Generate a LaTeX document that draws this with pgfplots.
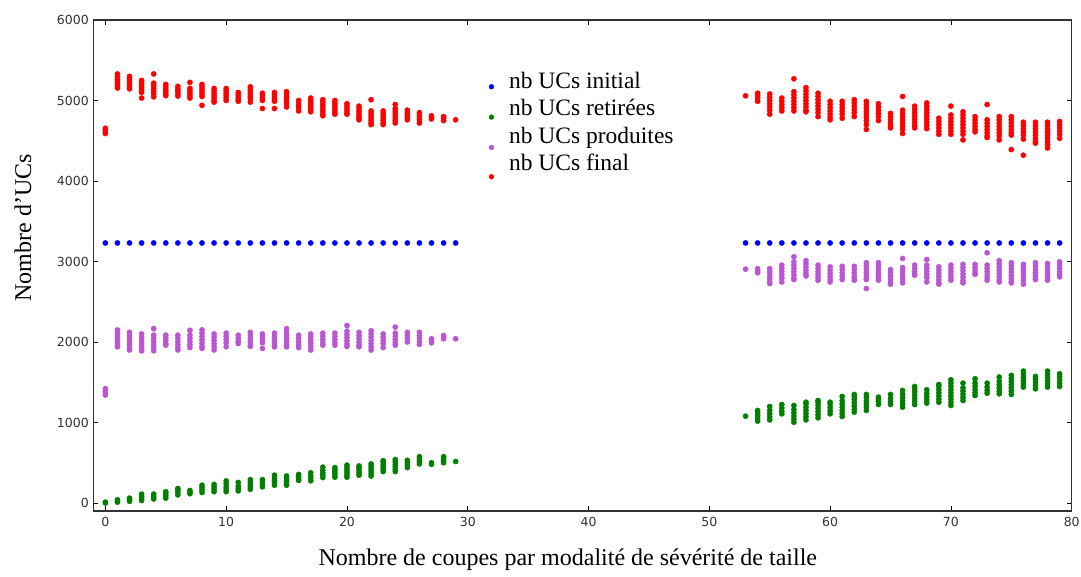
\documentclass[border=0pt]{standalone}
\usepackage{pgfplots}
\pgfplotsset{compat=1.18}
\usepackage{fontspec}
\setmainfont{Liberation Serif}
\newfontfamily\ticksf{DejaVu Sans}
\definecolor{cblue}{RGB}{0,0,255}
\definecolor{cgreen}{RGB}{0,128,0}
\definecolor{cpurple}{RGB}{186,85,211}
\definecolor{cred}{RGB}{255,0,0}
\definecolor{tickgray}{RGB}{50,50,50}
\begin{document}
\begin{tikzpicture}
\begin{axis}[
  scale only axis,
  width=978.4pt, height=491pt,
  xmin=-1, xmax=80, ymin=-100, ymax=6000,
  xtick={0,10,20,30,40,50,60,70,80},
  ytick={0,1000,2000,3000,4000,5000,6000},
  scaled ticks=false,
  /pgf/number format/assume math mode=true,
  /pgf/number format/1000 sep={},
  tick label style={font=\ticksf\fontsize{12.5}{14}\selectfont, text=tickgray},
  xticklabel style={yshift=-3pt},
  yticklabel style={xshift=-1pt},
  major tick length=5pt,
  tick style={black, line width=0.8pt},
  axis line style={line width=1.3pt, draw=black!80},
  tick align=inside,
  xlabel={Nombre de coupes par modalité de sévérité de taille},
  ylabel={Nombre d’UCs},
  label style={font=\fontsize{24}{28}\selectfont},
  xlabel style={at={(axis description cs:0.485,-0.110)}, anchor=base},
  ylabel style={at={(axis description cs:-0.072,0.577)}, anchor=center},
  legend style={at={(0.4018,0.9037)}, anchor=north west, draw=none, fill=none,
    font=\fontsize{23.5}{28}\selectfont, row sep=1.5pt, inner sep=2pt,
    nodes={text height=17pt, text depth=5pt, inner sep=2pt}},
  legend cell align=left,
  every axis plot/.append style={only marks, mark=*, mark size=2.6pt},
]
\addplot[color=cblue, legend image code/.code={\path[draw=none] (-0.1cm,0cm) -- (0.55cm,0cm); \fill[cblue] (0cm,-0.15cm) circle (2.4pt);}] coordinates {
(0,3230)(1,3230)(2,3230)(3,3230)(4,3230)(5,3230)(6,3230)(7,3230)(8,3230)(9,3230)
(10,3230)(11,3230)(12,3230)(13,3230)(14,3230)(15,3230)(16,3230)(17,3230)(18,3230)(19,3230)
(20,3230)(21,3230)(22,3230)(23,3230)(24,3230)(25,3230)(26,3230)(27,3230)(28,3230)(29,3230)
(53,3230)(54,3230)(55,3230)(56,3230)(57,3230)(58,3230)(59,3230)(60,3230)(61,3230)(62,3230)
(63,3230)(64,3230)(65,3230)(66,3230)(67,3230)(68,3230)(69,3230)(70,3230)(71,3230)(72,3230)
(73,3230)(74,3230)(75,3230)(76,3230)(77,3230)(78,3230)(79,3230)
};
\addlegendentry{nb UCs initial}
\addplot[color=cgreen, legend image code/.code={\path[draw=none] (-0.1cm,0cm) -- (0.55cm,0cm); \fill[cgreen] (0cm,-0.25cm) circle (2.4pt);}] coordinates {
(0,0)(0,10)
(1,10)(1,25)(1,40)
(2,20)(2,40)(2,60)
(3,30)(3,55)(3,80)(3,110)
(4,50)(4,80)(4,110)
(5,60)(5,90)(5,120)(5,140)
(6,100)(6,130)(6,160)(6,180)
(7,115)(7,135)(7,155)
(8,130)(8,160)(8,190)(8,220)
(9,140)(9,170)(9,200)(9,230)
(10,140)(10,170)(10,200)(10,240)(10,275)
(11,150)(11,180)(11,210)(11,255)
(12,170)(12,200)(12,230)(12,260)(12,290)
(13,200)(13,230)(13,260)(13,290)
(14,220)(14,250)(14,280)(14,310)(14,345)
(15,220)(15,250)(15,280)(15,310)(15,335)
(16,280)(16,300)(16,330)(16,355)
(17,275)(17,305)(17,335)(17,375)
(18,315)(18,345)(18,375)(18,405)(18,445)
(19,320)(19,350)(19,380)(19,410)(19,440)
(20,320)(20,350)(20,380)(20,410)(20,440)(20,470)
(21,345)(21,375)(21,405)(21,435)(21,460)
(22,335)(22,365)(22,395)(22,425)(22,455)(22,485)
(23,390)(23,420)(23,450)(23,480)(23,510)(23,525)
(24,390)(24,420)(24,450)(24,480)(24,510)(24,540)
(25,440)(25,470)(25,500)(25,530)
(26,485)(26,515)(26,545)(26,575)
(27,480)(27,500)
(28,500)(28,530)(28,560)(28,575)
(29,515)
(53,1078)
(54,1016)(54,1050)(54,1085)(54,1120)(54,1149)
(55,1032)(55,1070)(55,1110)(55,1150)(55,1198)
(56,1107)(56,1140)(56,1180)(56,1223)
(57,1003)(57,1040)(57,1080)(57,1120)(57,1160)(57,1211)
(58,1032)(58,1070)(58,1110)(58,1150)(58,1190)(58,1230)(58,1252)
(59,1057)(59,1095)(59,1135)(59,1175)(59,1215)(59,1250)(59,1273)
(60,1107)(60,1145)(60,1185)(60,1225)(60,1252)
(61,1074)(61,1110)(61,1150)(61,1190)(61,1230)(61,1270)(61,1323)
(62,1128)(62,1165)(62,1205)(62,1245)(62,1285)(62,1320)(62,1348)
(63,1149)(63,1190)(63,1230)(63,1270)(63,1310)(63,1348)
(64,1223)(64,1260)(64,1290)(64,1315)
(65,1223)(65,1260)(65,1300)(65,1348)
(66,1190)(66,1230)(66,1270)(66,1310)(66,1350)(66,1398)
(67,1223)(67,1260)(67,1300)(67,1340)(67,1380)(67,1420)(67,1447)
(68,1240)(68,1280)(68,1320)(68,1360)(68,1406)
(69,1252)(69,1290)(69,1330)(69,1370)(69,1410)(69,1450)(69,1472)
(70,1211)(70,1250)(70,1290)(70,1330)(70,1370)(70,1410)(70,1450)(70,1490)(70,1530)
(71,1273)(71,1310)(71,1350)(71,1390)(71,1430)(71,1489)
(72,1335)(72,1370)(72,1410)(72,1450)(72,1490)(72,1543)
(73,1364)(73,1400)(73,1440)(73,1489)
(74,1356)(74,1390)(74,1430)(74,1470)(74,1510)(74,1564)
(75,1348)(75,1390)(75,1430)(75,1470)(75,1510)(75,1550)(75,1585)
(76,1439)(76,1480)(76,1520)(76,1560)(76,1600)(76,1638)
(77,1418)(77,1460)(77,1500)(77,1540)(77,1572)
(78,1439)(78,1480)(78,1520)(78,1560)(78,1600)(78,1638)
(79,1447)(79,1490)(79,1530)(79,1570)(79,1605)
};
\addlegendentry{nb UCs retirées}
\addplot[color=cpurple, legend image code/.code={\path[draw=none] (-0.1cm,0cm) -- (0.55cm,0cm); \fill[cpurple] (0cm,-0.35cm) circle (2.4pt);}] coordinates {
(0,1340)(0,1365)(0,1390)(0,1420)
(1,2150)(1,2110)(1,2070)(1,2030)(1,1990)(1,1960)(1,1940)
(2,2120)(2,2080)(2,2040)(2,2000)(2,1960)(2,1920)(2,1900)
(3,2100)(3,2060)(3,2020)(3,1980)(3,1940)(3,1910)(3,1890)
(4,2165)(4,2085)(4,2045)(4,2005)(4,1965)(4,1925)(4,1890)
(5,2085)(5,2050)(5,2015)(5,1980)(5,1960)
(6,2085)(6,2045)(6,2005)(6,1965)(6,1930)(6,1900)
(7,2145)(7,2085)(7,2045)(7,2005)(7,1965)(7,1930)
(8,2150)(8,2110)(8,2070)(8,2030)(8,1990)(8,1950)(8,1920)
(9,2100)(9,2060)(9,2020)(9,1980)(9,1940)(9,1900)
(10,2110)(10,2070)(10,2030)(10,1990)(10,1940)
(11,2085)(11,2045)(11,2010)(11,1980)
(12,2120)(12,2080)(12,2040)(12,2000)(12,1960)(12,1945)
(13,2100)(13,2060)(13,2020)(13,1990)(13,1920)
(14,2110)(14,2070)(14,2030)(14,1990)(14,1960)(14,1940)
(15,2165)(15,2125)(15,2085)(15,2045)(15,2005)(15,1970)(15,1940)
(16,2085)(16,2045)(16,2005)(16,1965)(16,1930)
(17,2100)(17,2060)(17,2020)(17,1980)(17,1940)(17,1900)
(18,2110)(18,2070)(18,2030)(18,1990)(18,1960)
(19,2110)(19,2070)(19,2030)(19,1990)(19,1960)
(20,2205)(20,2135)(20,2095)(20,2055)(20,2015)(20,1975)(20,1945)
(21,2120)(21,2080)(21,2040)(21,2000)(21,1960)(21,1940)
(22,2140)(22,2100)(22,2060)(22,2020)(22,1980)(22,1940)(22,1900)
(23,2100)(23,2060)(23,2020)(23,1980)(23,1930)
(24,2185)(24,2110)(24,2070)(24,2030)(24,1990)(24,1960)
(25,2120)(25,2080)(25,2040)(25,2000)
(26,2120)(26,2080)(26,2040)(26,2000)(26,1970)
(27,2040)(27,2015)(27,1990)
(28,2080)(28,2060)(28,2040)
(29,2040)
(53,2904)
(54,2910)(54,2885)(54,2860)
(55,2910)(55,2870)(55,2830)(55,2790)(55,2750)(55,2726)
(56,2955)(56,2915)(56,2875)(56,2835)(56,2795)(56,2745)
(57,3058)(57,2995)(57,2955)(57,2915)(57,2875)(57,2835)(57,2795)(57,2775)
(58,3010)(58,2970)(58,2930)(58,2890)(58,2850)(58,2820)
(59,2955)(59,2915)(59,2875)(59,2835)(59,2800)(59,2767)
(60,2933)(60,2893)(60,2853)(60,2813)(60,2780)(60,2745)
(61,2940)(61,2900)(61,2860)(61,2820)(61,2775)
(62,2940)(62,2900)(62,2860)(62,2820)(62,2790)(62,2767)
(63,2985)(63,2945)(63,2905)(63,2865)(63,2825)(63,2790)(63,2775)(63,2664)
(64,2985)(64,2945)(64,2905)(64,2865)(64,2825)(64,2790)(64,2767)
(65,2900)(65,2860)(65,2820)(65,2780)(65,2740)(65,2718)
(66,3037)(66,2925)(66,2885)(66,2845)(66,2800)(66,2770)(66,2734)
(67,2955)(67,2915)(67,2875)(67,2840)(67,2830)
(68,3025)(68,2955)(68,2915)(68,2875)(68,2840)(68,2800)(68,2745)
(69,2933)(69,2893)(69,2853)(69,2813)(69,2773)(69,2740)(69,2718)
(70,2955)(70,2915)(70,2875)(70,2835)(70,2800)(70,2767)
(71,2965)(71,2925)(71,2885)(71,2845)(71,2805)(71,2765)(71,2734)
(72,2965)(72,2925)(72,2885)(72,2850)(72,2840)
(73,3108)(73,2955)(73,2915)(73,2875)(73,2835)(73,2800)(73,2767)
(74,3010)(74,2970)(74,2930)(74,2890)(74,2850)(74,2810)(74,2770)(74,2745)
(75,2985)(75,2945)(75,2905)(75,2865)(75,2825)(75,2785)(75,2750)(75,2734)
(76,2965)(76,2925)(76,2885)(76,2845)(76,2805)(76,2765)(76,2718)
(77,2985)(77,2945)(77,2905)(77,2865)(77,2825)(77,2790)(77,2775)
(78,2975)(78,2935)(78,2895)(78,2855)(78,2815)(78,2780)(78,2767)
(79,2995)(79,2955)(79,2915)(79,2875)(79,2840)(79,2809)
};
\addlegendentry{nb UCs produites}
\addplot[color=cred, legend image code/.code={\path[draw=none] (-0.1cm,0cm) -- (0.55cm,0cm); \fill[cred] (0cm,-0.414cm) circle (2.4pt);}] coordinates {
(0,4590)(0,4615)(0,4640)(0,4655)
(1,5330)(1,5295)(1,5265)(1,5235)(1,5205)(1,5175)(1,5155)
(2,5300)(2,5270)(2,5240)(2,5205)(2,5175)(2,5145)
(3,5250)(3,5220)(3,5190)(3,5160)(3,5130)(3,5100)(3,5030)
(4,5330)(4,5215)(4,5185)(4,5150)(4,5115)(4,5080)(4,5045)
(5,5200)(5,5170)(5,5140)(5,5110)(5,5080)(5,5060)
(6,5175)(6,5145)(6,5115)(6,5085)(6,5055)
(7,5225)(7,5150)(7,5120)(7,5090)(7,5060)(7,5030)
(8,5200)(8,5170)(8,5140)(8,5110)(8,5080)(8,5050)(8,4940)
(9,5150)(9,5120)(9,5090)(9,5060)(9,5030)(9,5000)(9,4980)
(10,5150)(10,5120)(10,5090)(10,5060)(10,5030)(10,5000)
(11,5100)(11,5070)(11,5040)(11,5010)(11,4990)
(12,5170)(12,5140)(12,5110)(12,5080)(12,5050)(12,5020)(12,4980)
(13,5090)(13,5060)(13,5030)(13,5000)(13,4900)
(14,5100)(14,5070)(14,5040)(14,5010)(14,4990)(14,4900)
(15,5110)(15,5080)(15,5050)(15,5020)(15,4990)(15,4960)(15,4920)
(16,5000)(16,4970)(16,4940)(16,4910)(16,4870)
(17,5030)(17,5000)(17,4970)(17,4940)(17,4910)(17,4880)(17,4860)
(18,5010)(18,4980)(18,4950)(18,4920)(18,4890)(18,4860)(18,4830)(18,4810)
(19,5000)(19,4970)(19,4940)(19,4910)(19,4880)(19,4850)(19,4830)
(20,4960)(20,4930)(20,4900)(20,4870)(20,4840)(20,4830)
(21,4930)(21,4900)(21,4870)(21,4840)(21,4810)(21,4780)(21,4760)
(22,5010)(22,4870)(22,4840)(22,4810)(22,4780)(22,4750)(22,4720)(22,4700)
(23,4870)(23,4840)(23,4810)(23,4780)(23,4750)(23,4720)(23,4700)
(24,4950)(24,4900)(24,4870)(24,4840)(24,4810)(24,4780)(24,4750)(24,4720)
(25,4880)(25,4850)(25,4820)(25,4790)(25,4760)
(26,4850)(26,4820)(26,4790)(26,4760)(26,4720)
(27,4810)(27,4790)(27,4770)
(28,4800)(28,4775)(28,4750)
(29,4760)
(53,5058)
(54,5090)(54,5060)(54,5030)(54,4990)
(55,5080)(55,5040)(55,5000)(55,4960)(55,4920)(55,4880)(55,4830)
(56,5030)(56,4990)(56,4950)(56,4910)(56,4870)
(57,5270)(57,5110)(57,5070)(57,5030)(57,4990)(57,4950)(57,4910)(57,4870)
(58,5160)(58,5120)(58,5080)(58,5040)(58,5000)(58,4960)(58,4920)(58,4880)(58,4860)
(59,5090)(59,5050)(59,5010)(59,4970)(59,4930)(59,4890)(59,4850)(59,4800)
(60,4990)(60,4950)(60,4910)(60,4870)(60,4830)(60,4790)(60,4760)
(61,4990)(61,4950)(61,4910)(61,4870)(61,4830)(61,4780)
(62,5010)(62,4970)(62,4930)(62,4890)(62,4850)(62,4800)
(63,4990)(63,4950)(63,4910)(63,4870)(63,4830)(63,4790)(63,4750)(63,4700)(63,4640)
(64,4960)(64,4920)(64,4880)(64,4840)(64,4800)(64,4750)
(65,4840)(65,4800)(65,4760)(65,4720)(65,4690)(65,4660)
(66,5050)(66,4880)(66,4840)(66,4800)(66,4760)(66,4720)(66,4680)(66,4640)(66,4590)
(67,4930)(67,4890)(67,4850)(67,4810)(67,4770)(67,4730)(67,4690)(67,4660)
(68,4970)(68,4930)(68,4890)(68,4850)(68,4810)(68,4770)(68,4730)(68,4690)(68,4650)
(69,4780)(69,4740)(69,4700)(69,4660)(69,4620)(69,4580)
(70,4930)(70,4820)(70,4780)(70,4740)(70,4700)(70,4660)(70,4620)(70,4580)
(71,4860)(71,4820)(71,4780)(71,4740)(71,4700)(71,4660)(71,4620)(71,4580)(71,4510)
(72,4800)(72,4760)(72,4720)(72,4680)(72,4640)(72,4610)
(73,4950)(73,4760)(73,4720)(73,4680)(73,4640)(73,4600)(73,4560)(73,4540)
(74,4800)(74,4760)(74,4720)(74,4680)(74,4640)(74,4600)(74,4560)(74,4510)
(75,4800)(75,4760)(75,4720)(75,4680)(75,4640)(75,4600)(75,4570)(75,4390)
(76,4730)(76,4690)(76,4650)(76,4610)(76,4570)(76,4520)(76,4320)
(77,4730)(77,4690)(77,4650)(77,4610)(77,4570)(77,4530)(77,4490)(77,4470)
(78,4730)(78,4690)(78,4650)(78,4610)(78,4570)(78,4530)(78,4490)(78,4450)(78,4410)
(79,4740)(79,4700)(79,4660)(79,4620)(79,4580)(79,4530)
};
\addlegendentry{nb UCs final}
\end{axis}
\pgfresetboundingbox
\path (-93.3pt,-65pt) rectangle (987.7pt,511pt);
\end{tikzpicture}
\end{document}
